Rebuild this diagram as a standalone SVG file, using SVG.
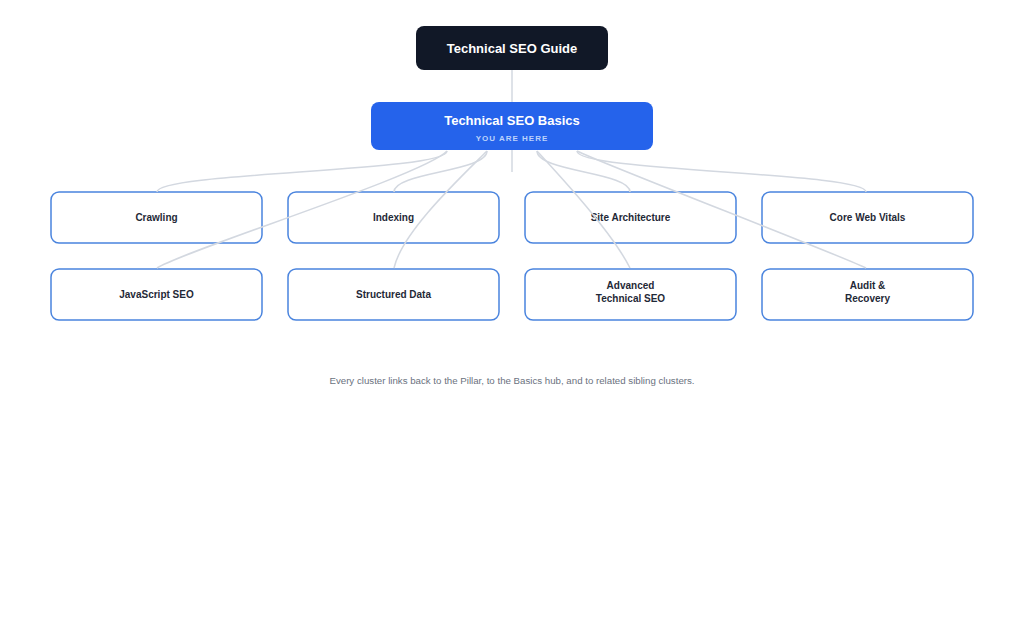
<svg xmlns="http://www.w3.org/2000/svg" width="1024" height="640" viewBox="0 0 1024 640">
<style>
.bg{fill:#ffffff}
.pillar{fill:#111827}
.hub{fill:#2563eb}
.cluster{fill:#ffffff;stroke:#4a84de;stroke-width:1.5}
.t-white{font-family:"Liberation Sans",Arial,sans-serif;font-weight:bold;font-size:13px;fill:#ffffff;text-anchor:middle}
.t-here{font-family:"Liberation Sans",Arial,sans-serif;font-weight:bold;font-size:8px;letter-spacing:1px;fill:#bcd2fb;text-anchor:middle}
.t-node{font-family:"Liberation Sans",Arial,sans-serif;font-weight:bold;font-size:10px;fill:#1f2937;text-anchor:middle}
.t-foot{font-family:"Liberation Sans",Arial,sans-serif;font-size:9.7px;fill:#6b7280;text-anchor:middle}
.link{fill:none;stroke:#d3d8e0;stroke-width:1.5}
</style>
<rect class="bg" x="0" y="0" width="1024" height="640"/>
<g id="node-pillar">
<rect class="pillar" x="416" y="26" width="192" height="44" rx="8"/>
<text class="t-white" x="512" y="53">Technical SEO Guide</text>
</g>
<g id="node-basics">
<rect class="hub" x="371" y="102" width="282" height="48" rx="8"/>
<text class="t-white" x="512" y="125">Technical SEO Basics</text>
<text class="t-here" x="512" y="141">YOU ARE HERE</text>
</g>
<g id="node-crawling">
<rect class="cluster" x="51" y="192" width="211" height="51" rx="8"/>
<text class="t-node" x="156.5" y="221">Crawling</text>
</g>
<g id="node-indexing">
<rect class="cluster" x="288" y="192" width="211" height="51" rx="8"/>
<text class="t-node" x="393.5" y="221">Indexing</text>
</g>
<g id="node-site-architecture">
<rect class="cluster" x="525" y="192" width="211" height="51" rx="8"/>
<text class="t-node" x="630.5" y="221">Site Architecture</text>
</g>
<g id="node-core-web-vitals">
<rect class="cluster" x="762" y="192" width="211" height="51" rx="8"/>
<text class="t-node" x="867.5" y="221">Core Web Vitals</text>
</g>
<g id="node-javascript-seo">
<rect class="cluster" x="51" y="269" width="211" height="51" rx="8"/>
<text class="t-node" x="156.5" y="298">JavaScript SEO</text>
</g>
<g id="node-structured-data">
<rect class="cluster" x="288" y="269" width="211" height="51" rx="8"/>
<text class="t-node" x="393.5" y="298">Structured Data</text>
</g>
<g id="node-advanced">
<rect class="cluster" x="525" y="269" width="211" height="51" rx="8"/>
<text class="t-node" x="630.5" y="289">Advanced</text>
<text class="t-node" x="630.5" y="302">Technical SEO</text>
</g>
<g id="node-audit">
<rect class="cluster" x="762" y="269" width="211" height="51" rx="8"/>
<text class="t-node" x="867.5" y="289">Audit &amp;</text>
<text class="t-node" x="867.5" y="302">Recovery</text>
</g>
<g id="connectors">
<line class="link" x1="512" y1="70" x2="512" y2="102"/>
<line class="link" x1="512" y1="150" x2="512" y2="172"/>
<path class="link" d="M447,151 C447,172 157,172 157,192"/>
<path class="link" d="M447,151 C425,175 185,250 157,268"/>
<path class="link" d="M487,151 C487,172 394,172 394,192"/>
<path class="link" d="M487,151 C460,178 402,232 394,268"/>
<path class="link" d="M537,151 C537,172 630,172 630,192"/>
<path class="link" d="M537,151 C560,176 612,232 630,268"/>
<path class="link" d="M577,151 C577,172 866,172 866,192"/>
<path class="link" d="M577,151 C605,165 840,255 866,268"/>
</g>
<text class="t-foot" x="512" y="384">Every cluster links back to the Pillar, to the Basics hub, and to related sibling clusters.</text>
</svg>
